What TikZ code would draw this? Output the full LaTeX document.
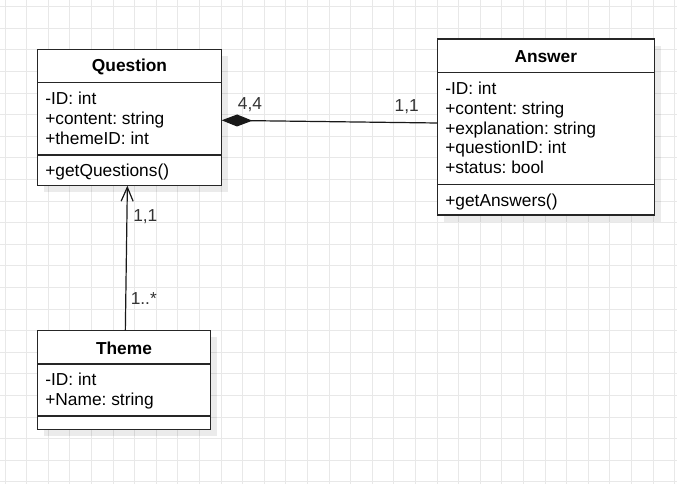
\documentclass[tikz,border=0pt]{standalone}
\usepackage{fontspec}
\setmainfont{Liberation Sans}
\usetikzlibrary{arrows.meta,shadows}
\frenchspacing

\begin{document}
\begin{tikzpicture}[x=0.75pt,y=-0.75pt]
	\tikzstyle{gridline} = [draw=black!9,line width=0.75pt]
	\tikzstyle{umlclass} = [rectangle,draw=black!85,line width=1pt,fill=white,inner sep=0pt,outer sep=0pt,drop shadow={shadow xshift=5pt,shadow yshift=-5pt,fill=black,opacity=0.08}]
	\tikzstyle{umlsep} = [draw=black!85,line width=1pt]
	\tikzstyle{umltitle} = [inner sep=0pt,font=\fontsize{13}{15}\selectfont\bfseries]
	\tikzstyle{umltext} = [inner sep=0pt,anchor=north west,align=left,font=\fontsize{13}{14.8}\selectfont]
	\tikzstyle{mult} = [inner sep=0pt,font=\fontsize{13}{15}\selectfont,text=black!80]

		\useasboundingbox (0,0) rectangle (677,484);
		\fill[white] (0,0) rectangle (677,484);
		\foreach \i in {0,...,31} \draw[gridline] (5+21.6*\i,0) -- (5+21.6*\i,484);
		\foreach \j in {0,...,22} \draw[gridline] (0,6.7+21.6*\j) -- (677,6.7+21.6*\j);

		% Question
		\node[umlclass,minimum width=138.3pt,minimum height=102.3pt] (question) at (129.5,117.5){};
		\draw[umlsep] ([yshift=-25pt]question.north west) -- ([yshift=-25pt]question.north east);
		\draw[umlsep] ([yshift=-79.3pt]question.north west) -- ([yshift=-79.3pt]question.north east);
		\node[umltitle] (question-title) at ([yshift=-13.2pt]question.north){Question};
		\node[umltext] (question-attr) at ([xshift=5.8pt,yshift=-32pt]question.north west){-ID: int\\+content: string\\+themeID: int};
		\node[umltext] (question-op) at ([xshift=5.8pt,yshift=-85.8pt]question.north west){+getQuestions()};

		% Answer
		\node[umlclass,minimum width=162.75pt,minimum height=132pt] (answer) at (545.8,127){};
		\draw[umlsep] ([yshift=-25pt]answer.north west) -- ([yshift=-25pt]answer.north east);
		\draw[umlsep] ([yshift=-109.3pt]answer.north west) -- ([yshift=-109.3pt]answer.north east);
		\node[umltitle] (answer-title) at ([yshift=-12.9pt]answer.north){Answer};
		\node[umltext] (answer-attr) at ([xshift=5.8pt,yshift=-32.2pt]answer.north west){-ID: int\\+content: string\\+explanation: string\\+questionID: int\\+status: bool};
		\node[umltext] (answer-op) at ([xshift=5.8pt,yshift=-116.1pt]answer.north west){+getAnswers()};

		% Theme
		\node[umlclass,minimum width=130pt,minimum height=74pt] (theme) at (124,380){};
		\draw[umlsep] ([yshift=-25pt]theme.north west) -- ([yshift=-25pt]theme.north east);
		\draw[umlsep] ([yshift=-64pt]theme.north west) -- ([yshift=-64pt]theme.north east);
		\node[umltitle] (theme-title) at ([yshift=-12.9pt]theme.north){Theme};
		\node[umltext] (theme-attr) at ([xshift=5.8pt,yshift=-31.6pt]theme.north west){-ID: int\\+Name: string};

		% relations
		\draw[{Diamond[length=23pt,width=9pt]}-,line width=0.9pt,black!90] ([yshift=-2.1pt]question.east) -- node[mult,pos=0.131,above=6.2pt]{4,4} node[mult,pos=0.858,above=6.2pt]{1,1} ([yshift=3pt]answer.west);
		\draw[-{Straight Barb[length=10.5pt,width=9pt]},line width=0.9pt,black!90] ([xshift=1pt]theme.north) -- node[mult,pos=0.223,anchor=west,xshift=3.3pt]{1..*} node[mult,pos=0.786,anchor=west,xshift=4.3pt]{1,1} ([xshift=-1.6pt]question.south);
\end{tikzpicture}
\end{document}
